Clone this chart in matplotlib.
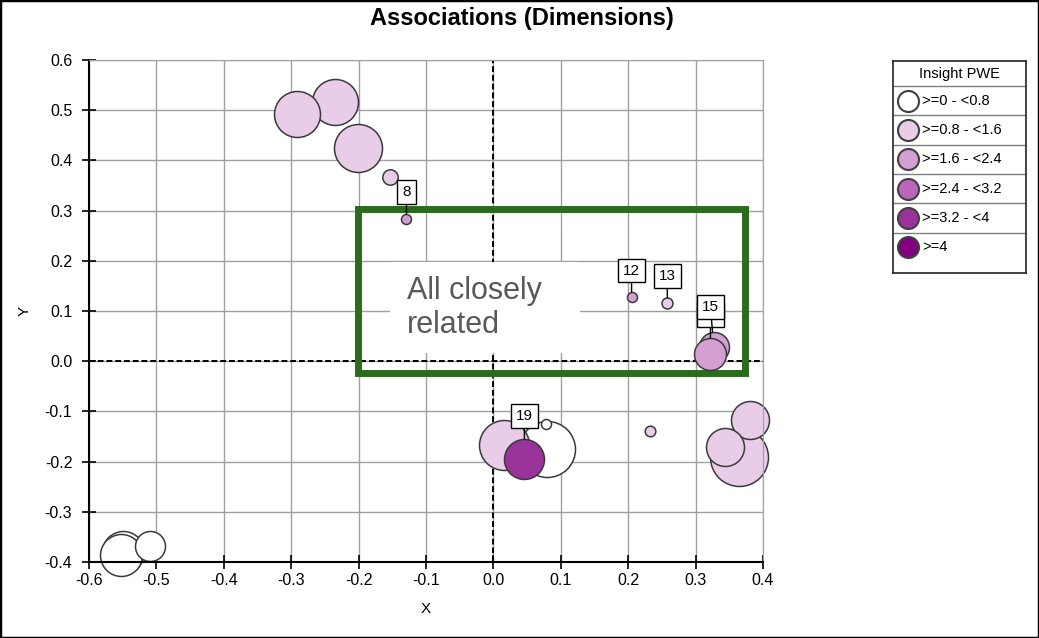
import matplotlib
matplotlib.use("Agg")
import matplotlib.pyplot as plt
from matplotlib.patches import Rectangle
import numpy as np

plt.rcParams['font.family'] = ['Liberation Sans', 'DejaVu Sans']

# bubble data, listed in drawing order
bubbleX = [-0.235, -0.291, -0.201, -0.153, -0.129, 0.205, 0.258, 0.327, 0.322,
           0.080, 0.015, 0.078, 0.046, 0.233, 0.364, 0.380, 0.343,
           -0.549, -0.553, -0.510]
bubbleY = [0.516, 0.493, 0.424, 0.367, 0.284, 0.128, 0.115, 0.028, 0.015,
           -0.174, -0.167, -0.126, -0.195, -0.139, -0.191, -0.118, -0.171,
           -0.380, -0.386, -0.368]
bubbleSize = [23, 23, 24, 7.7, 5, 5, 5.5, 15, 16,
              28, 25, 5, 20, 5.3, 29, 19, 19,
              21, 21, 15]
# index into the Insight PWE bins
bubbleBin = [1, 1, 1, 1, 2, 2, 1, 2, 2,
             0, 1, 0, 4, 1, 1, 1, 1,
             0, 0, 0]
bubbleLabel = ["", "", "", "", "8", "12", "13", "15", "14",
               "", "", "", "19", "", "", "", "",
               "", "", ""]

binLabels = [">=0 - <0.8", ">=0.8 - <1.6", ">=1.6 - <2.4", ">=2.4 - <3.2", ">=3.2 - <4", ">=4"]
binColors = ["#FFFFFF", "#E8CCE8", "#D4A0D2", "#BB66BB", "#993399", "#800080"]

xTicks = [-0.6, -0.5, -0.4, -0.3, -0.2, -0.1, 0.0, 0.1, 0.2, 0.3, 0.4]
yTicks = [-0.4, -0.3, -0.2, -0.1, 0.0, 0.1, 0.2, 0.3, 0.4, 0.5, 0.6]

# label box offsets (points) relative to bubble centre
labelOffset = {"8": (0, 19), "12": (0, 19), "13": (0, 20), "15": (-2.4, 29), "14": (0, 28), "19": (0, 31)}

fig = plt.figure(figsize=(10.39, 6.38), dpi=100)
ax = fig.add_axes([89/1039, 76/638, 674/1039, 502/638])

ax.set_xlim(-0.6, 0.4)
ax.set_ylim(-0.4, 0.6)
ax.set_xticks(xTicks)
ax.set_yticks(yTicks)
ax.set_xticklabels([f"{t:.1f}" for t in xTicks])
ax.set_yticklabels([f"{t:.1f}" for t in yTicks])
ax.grid(True, color="#A0A0A0", lw=1)
ax.set_axisbelow(True)
for s in ["top", "right"]:
	ax.spines[s].set_color("#A0A0A0")
for s in ["left", "bottom"]:
	ax.spines[s].set_linewidth(1.5)
ax.tick_params(direction="inout", length=10, width=1.2, labelsize=11.5)
ax.tick_params(axis="y", pad=7)
ax.tick_params(axis="x", pad=3)
ax.set_xlabel("X", fontsize=11, labelpad=10)
ax.set_ylabel("Y", fontsize=11, labelpad=9)

ax.axhline(0, color="black", ls=(0, (3, 1.5)), lw=1.4, zorder=1.5)
ax.axvline(0, color="black", ls=(0, (3, 1.5)), lw=1.4, zorder=1.5)

# note background and green frame
ax.add_patch(Rectangle((-0.153, 0.016), 0.281, 0.181, fc="white", ec="none", zorder=1.6))
ax.text(-0.128, 0.106, "All closely\nrelated", fontsize=22, color="#595959",
	ha="left", va="center", linespacing=1.15, zorder=1.7)
ax.add_patch(Rectangle((-0.2003, -0.0239), 0.5742, 0.3267, fill=False,
	ec="#2B6B1E", lw=5, zorder=1.8))

for i in range(len(bubbleX)) :
	r = bubbleSize[i]
	ax.scatter(bubbleX[i], bubbleY[i], s=(1.44*r)**2, color=binColors[bubbleBin[i]],
		edgecolors="#3a3a3a", linewidths=1.1, zorder=2+i*0.01, clip_on=False)
	lab = bubbleLabel[i]
	if lab != "" :
		ax.annotate(lab, (bubbleX[i], bubbleY[i]), xytext=labelOffset[lab], textcoords="offset points",
			ha="center", va="center", fontsize=11, zorder=4 if lab == "15" else 3.5,
			bbox=dict(boxstyle="square,pad=0.32", fc="white", ec="black", lw=1),
			arrowprops=dict(arrowstyle="-", color="black", lw=1, shrinkA=0, shrinkB=r*0.72))

fig.text(0.502, 1-19/638, "Associations (Dimensions)", ha="center", va="center",
	fontsize=17, fontweight="bold")

# legend drawn by hand
lax = fig.add_axes([893/1039, (638-273)/638, 133/1039, 212/638])
lax.set_xlim(0, 133)
lax.set_ylim(212, 0)
lax.set_xticks([])
lax.set_yticks([])
for s in lax.spines.values() :
	s.set_color("#222222")
	s.set_linewidth(1.2)
lax.text(66, 13, "Insight PWE", ha="center", va="center", fontsize=10.5)
rowH = 29.3
for i in range(len(binLabels)) :
	top = 25 + i*rowH
	lax.axhline(top, color="#808080", lw=1)
	yc = top + rowH/2
	lax.scatter(15, yc, s=(1.44*10.5)**2, color=binColors[i], edgecolors="#404040", linewidths=1.5)
	lax.text(29, yc, binLabels[i], ha="left", va="center", fontsize=10.5)

fig.patches.append(Rectangle((0, 0), 1, 1, transform=fig.transFigure, fill=False, ec="black", lw=2.5))

plt.savefig("out.png", dpi=100)
plt.close()
